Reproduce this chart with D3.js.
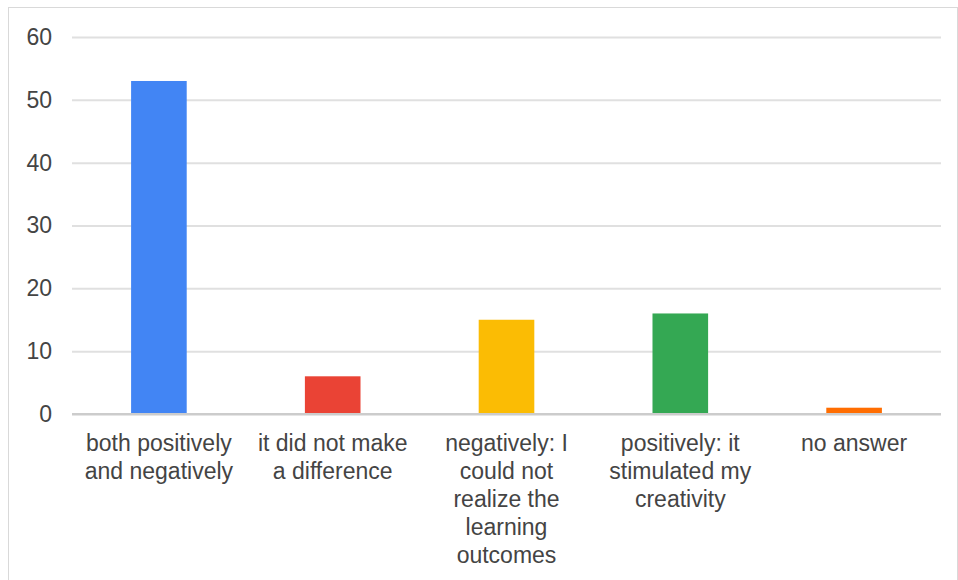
<!DOCTYPE html>
<html>
<head>
<meta charset="utf-8">
<script src="https://cdn.jsdelivr.net/npm/d3@7"></script>
<style>
  body { margin: 0; background: #fff; }
  svg { display: block; }
</style>
</head>
<body>
<script>
var svgWidth = 958;
var svgHeight = 580;

// chart data
var categories = [
  "both positively and negatively",
  "it did not make a difference",
  "negatively: I could not realize the learning outcomes",
  "positively: it stimulated my creativity",
  "no answer"
];
var counts = [53, 6, 15, 16, 1];
var barColors = ["#4285f4", "#ea4335", "#fbbc04", "#34a853", "#ff6d01"];
var yTicks = [0, 10, 20, 30, 40, 50, 60];

var margin = { top: 37, right: 17, bottom: 166, left: 72 };
var width = svgWidth - margin.left - margin.right;
var height = svgHeight - margin.top - margin.bottom;

var svg = d3.select("body")
  .append("svg")
  .attr("width", svgWidth)
  .attr("height", svgHeight);

// outer frame
svg.append("rect")
  .attr("x", 8.5)
  .attr("y", 7.5)
  .attr("width", 949)
  .attr("height", 600)
  .attr("fill", "none")
  .attr("stroke", "#d9d9d9");

var chartGroup = svg.append("g")
  .attr("transform", `translate(${margin.left}, ${margin.top})`);

var xScale = d3.scaleBand()
  .domain(categories)
  .range([0, width])
  .paddingInner(0.68)
  .paddingOuter(0.34);

var yScale = d3.scaleLinear()
  .domain([0, 60])
  .range([height, 0]);

// gridlines + y labels
var leftAxis = d3.axisLeft(yScale)
  .tickValues(yTicks)
  .tickSize(-width)
  .tickPadding(20);

var yAxis = chartGroup.append("g").call(leftAxis);
yAxis.select(".domain").remove();
yAxis.selectAll(".tick line")
  .attr("stroke", d => d === 0 ? "#cccccc" : "#e0e0e0")
  .attr("stroke-width", 2);
yAxis.selectAll(".tick text")
  .attr("x", -20)
  .attr("text-anchor", "end")
  .attr("fill", "#444")
  .style("font-family", "'Liberation Sans', Arial, sans-serif")
  .style("font-size", "23px");

// bars
chartGroup.selectAll("rect.bar")
  .data(counts)
  .enter()
  .append("rect")
  .attr("class", "bar")
  .attr("x", (d, i) => xScale(categories[i]))
  .attr("y", d => yScale(d))
  .attr("width", xScale.bandwidth())
  .attr("height", d => height - yScale(d))
  .attr("fill", (d, i) => barColors[i]);

// baseline drawn over bars
chartGroup.append("line")
  .attr("x1", 0)
  .attr("x2", width)
  .attr("y1", height)
  .attr("y2", height)
  .attr("stroke", "#cccccc")
  .attr("stroke-width", 2);

// x labels, wrapped to band width
var bottomAxis = d3.axisBottom(xScale).tickSize(0).tickPadding(0);
var xAxis = chartGroup.append("g")
  .attr("transform", `translate(0, ${height})`)
  .call(bottomAxis);
xAxis.select(".domain").remove();

xAxis.selectAll(".tick text")
  .attr("dy", null)
  .attr("y", null)
  .attr("fill", "#444")
  .style("font-family", "'Liberation Sans', Arial, sans-serif")
  .style("font-size", "23px")
  .each(function(d) {
    var text = d3.select(this);
    var words = d.split(" ");
    var maxW = 162;
    var lineH = 28;
    text.text(null);
    var line = [];
    var lineNo = 0;
    var tspan = text.append("tspan").attr("x", 0).attr("y", 37);
    words.forEach(function(w) {
      line.push(w);
      tspan.text(line.join(" "));
      if (tspan.node().getComputedTextLength() > maxW && line.length > 1) {
        line.pop();
        tspan.text(line.join(" "));
        line = [w];
        lineNo++;
        tspan = text.append("tspan").attr("x", 0).attr("y", 37 + lineNo * lineH).text(w);
      }
    });
  });
</script>
</body>
</html>
